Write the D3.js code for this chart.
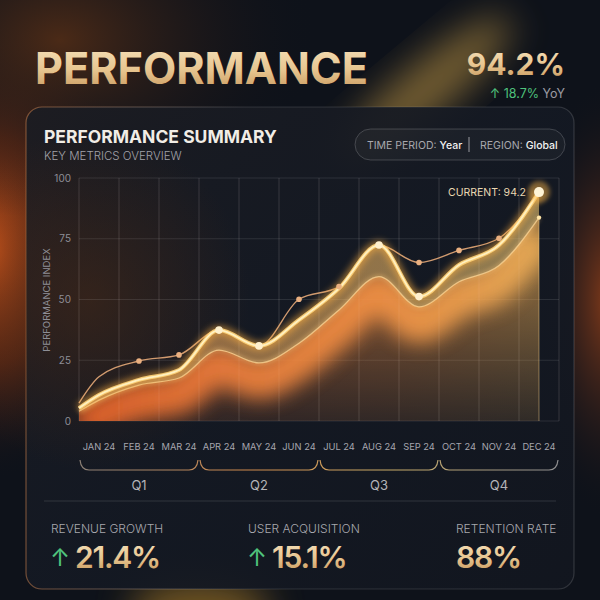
<!DOCTYPE html>
<html><head><meta charset="utf-8">
<script src="https://cdn.jsdelivr.net/npm/d3@7"></script>
<style>html,body{margin:0;padding:0;background:#0e121a;} svg{display:block;font-family:Inter,"Noto Sans",sans-serif;}</style>
</head><body><svg id="c" width="600" height="600"></svg>
<script>
// ---- data ----
const months = ["JAN 24","FEB 24","MAR 24","APR 24","MAY 24","JUN 24","JUL 24","AUG 24","SEP 24","OCT 24","NOV 24","DEC 24"];
const quarters = ["Q1","Q2","Q3","Q4"];
const yTicks = [0,25,50,75,100];
const performance = [10.7,16.9,21.0,37.4,30.9,41.6,54.6,72.4,51.2,64.2,72.4,94.2];
const target      = [18.2,24.7,27.2,37.4,30.9,50.1,55.3,72.4,65.2,70.2,75.2,94.2];
const baseline    = [8.6,14.8,17.7,29.2,23.9,32.0,45.7,59.4,47.0,57.3,64.0,83.7];
const startValues = {performance:5.3, target:7.4, baseline:4.0};
const perfDots = ["APR 24","MAY 24","AUG 24","SEP 24"];
const targetDots = ["FEB 24","MAR 24","JUN 24","JUL 24","SEP 24","OCT 24","NOV 24"];
const kpiLabels = ["REVENUE GROWTH","USER ACQUISITION","RETENTION RATE"];
const kpiValues = ["21.4%","15.1%","88%"];
const kpiUp = [true,true,false];
const headline = "94.2%";
const yoy = "18.7%";

// ---- setup ----
const svg = d3.select("#c");
const defs = svg.append("defs");
function lin(id, stops, attrs){
  const g = defs.append("linearGradient").attr("id", id);
  Object.entries(attrs||{}).forEach(([k,v])=>g.attr(k,v));
  stops.forEach(s=>g.append("stop").attr("offset",s[0]).attr("stop-color",s[1]).attr("stop-opacity",s[2]==null?1:s[2]));
}
function rad(id, stops, attrs){
  const g = defs.append("radialGradient").attr("id", id);
  Object.entries(attrs||{}).forEach(([k,v])=>g.attr(k,v));
  stops.forEach(s=>g.append("stop").attr("offset",s[0]).attr("stop-color",s[1]).attr("stop-opacity",s[2]==null?1:s[2]));
}
rad("gLeft",[[0,"#dc5a1c",0.95],[0.5,"#8a3410",0.55],[1,"#0e121a",0]]);
rad("gTopLeft",[[0,"#5a3016",0.8],[1,"#0e121a",0]]);
rad("gRight",[[0,"#a4461a",0.8],[1,"#0e121a",0]]);
rad("gCardWarm",[[0,"#4a2a16",0.55],[1,"#4a2a16",0]]);
lin("goldText",[[0,"#f7e4bf"],[0.55,"#e6c48e"],[1,"#c49257"]],{x1:0,y1:0,x2:0,y2:1});
lin("areaH",[[0,"#ea642a"],[0.3,"#f2803c"],[0.65,"#f49446"],[1,"#ecb25a"]],{gradientUnits:"userSpaceOnUse",x1:79,y1:0,x2:559,y2:0});
lin("bandH",[[0,"#f6a45c"],[0.5,"#f8b864"],[1,"#f6d27c"]],{gradientUnits:"userSpaceOnUse",x1:79,y1:0,x2:559,y2:0});
lin("fadeV",[[0,"#ffffff"],[0.5,"#b8b8b8"],[1,"#383838"]],{gradientUnits:"userSpaceOnUse",x1:0,y1:190,x2:0,y2:421});
lin("bracketG",[[0,"#8c8076"],[0.35,"#d08a4c"],[0.65,"#c9ac68"],[1,"#8e8e90"]],{gradientUnits:"userSpaceOnUse",x1:79,y1:0,x2:559,y2:0});
lin("cardStroke",[[0,"#c07a4a",0.55],[0.4,"#ffffff",0.12],[0.75,"#ffffff",0.12],[1,"#ffffff",0.14]],{x1:0,y1:0,x2:1,y2:0});
lin("cardFill",[[0,"#1b1c22",0.93],[0.5,"#141923",0.94],[1,"#12161f",0.95]],{x1:0,y1:0,x2:1,y2:1});
function blur(id, sd){
  defs.append("filter").attr("id",id).attr("x","-50%").attr("y","-50%").attr("width","200%").attr("height","200%")
    .append("feGaussianBlur").attr("stdDeviation",sd);
}
blur("glow",3.5); blur("soft",18); blur("glow2",2); blur("wide",10);

// ---- background ----
svg.append("rect").attr("width",600).attr("height",600).attr("fill","#0e121a");
svg.append("ellipse").attr("cx",-10).attr("cy",250).attr("rx",150).attr("ry",230).attr("fill","url(#gLeft)");
svg.append("ellipse").attr("cx",60).attr("cy",40).attr("rx",260).attr("ry",180).attr("fill","url(#gTopLeft)");
svg.append("ellipse").attr("cx",610).attr("cy",300).attr("rx",90).attr("ry",220).attr("fill","url(#gRight)");
svg.append("ellipse").attr("cx",425).attr("cy",90).attr("rx",26).attr("ry",110).attr("fill","#d8a848").attr("opacity",0.5)
  .attr("transform","rotate(50 425 90)").attr("filter","url(#soft)");
svg.append("ellipse").attr("cx",200).attr("cy",610).attr("rx",70).attr("ry",30).attr("fill","#b08028").attr("opacity",0.6).attr("filter","url(#soft)");

// ---- header ----
svg.append("text").attr("x",35).attr("y",84).text("PERFORMANCE")
  .attr("font-size",44).attr("font-weight",700).attr("fill","url(#goldText)")
  .attr("textLength",333).attr("lengthAdjust","spacingAndGlyphs");
svg.append("text").attr("x",565).attr("y",75).attr("text-anchor","end").text(headline)
  .attr("font-size",30).attr("font-weight",700).attr("fill","url(#goldText)");
const yo = svg.append("text").attr("x",565).attr("y",98).attr("text-anchor","end").attr("font-size",12.5);
yo.append("tspan").attr("fill","#4fc27c").text("↑ "+yoy+" ");
yo.append("tspan").attr("fill","#9a9aa2").text("YoY");

// ---- card ----
svg.append("rect").attr("x",26).attr("y",107).attr("width",548).attr("height",482).attr("rx",16)
  .attr("fill","url(#cardFill)").attr("stroke","url(#cardStroke)").attr("stroke-width",1.2);
svg.append("ellipse").attr("cx",90).attr("cy",300).attr("rx",160).attr("ry",170).attr("fill","url(#gCardWarm)");
svg.append("text").attr("x",44).attr("y",143).text("PERFORMANCE SUMMARY")
  .attr("font-size",17.5).attr("font-weight",700).attr("fill","#f1ede6");
svg.append("text").attr("x",44).attr("y",160).text("KEY METRICS OVERVIEW")
  .attr("font-size",11.5).attr("font-weight",300).attr("fill","#a2a2a8");
svg.append("rect").attr("x",355).attr("y",129).attr("width",210).attr("height",31).attr("rx",15.5)
  .attr("fill","rgba(255,255,255,0.03)").attr("stroke","rgba(255,255,255,0.18)");
const p1 = svg.append("text").attr("x",367).attr("y",149).attr("font-size",10.5);
p1.append("tspan").attr("fill","#a8a8ae").text("TIME PERIOD: ");
p1.append("tspan").attr("fill","#f2f2f2").attr("font-weight",500).text("Year");
svg.append("line").attr("x1",469).attr("x2",469).attr("y1",137).attr("y2",152).attr("stroke","#9a9aa0");
const p2 = svg.append("text").attr("x",480).attr("y",149).attr("font-size",10.5);
p2.append("tspan").attr("fill","#a8a8ae").text("REGION: ");
p2.append("tspan").attr("fill","#f2f2f2").attr("font-weight",500).text("Global");

// ---- chart ----
const x = d3.scaleBand().domain(months).range([79,559]);
const y = d3.scaleLinear().domain([0,100]).range([421,178]);
const cx = m => x(m) + x.bandwidth()/2;
const x0 = x.range()[0];
function series(vals, start){ return [{x:x0, v:start}].concat(months.map((m,i)=>({x:cx(m), v:vals[i]}))); }
const perfS = series(performance, startValues.performance);
const targS = series(target, startValues.target);
const baseS = series(baseline, startValues.baseline);
const line = d3.line().x(d=>d.x).y(d=>y(d.v)).curve(d3.curveMonotoneX);
const area = d3.area().x(d=>d.x).y0(y(0)).y1(d=>y(d.v)).curve(d3.curveMonotoneX);
const band = d3.area().x(d=>d.x).y0((d,i)=>y(baseS[i].v)).y1(d=>y(d.v)).curve(d3.curveMonotoneX);

const grid = svg.append("g");
grid.selectAll("line.h").data(yTicks).join("line").attr("x1",79).attr("x2",559)
  .attr("y1",d=>y(d)).attr("y2",d=>y(d)).attr("stroke","rgba(255,255,255,0.1)");
grid.selectAll("line.v").data(d3.range(months.length+1)).join("line")
  .attr("x1",i=>x0+i*x.bandwidth()).attr("x2",i=>x0+i*x.bandwidth())
  .attr("y1",y(100)).attr("y2",y(0)).attr("stroke","rgba(255,255,255,0.08)");
svg.selectAll("text.yt").data(yTicks).join("text").attr("x",71).attr("y",d=>y(d)+3.5)
  .attr("text-anchor","end").attr("font-size",10).attr("fill","#8e8e96").text(d=>d);
svg.append("text").attr("transform","translate(50,300) rotate(-90)").attr("text-anchor","middle")
  .attr("font-size",9.5).attr("fill","#8e8e96").text("PERFORMANCE INDEX");

const mask = defs.append("mask").attr("id","fadeMask").attr("maskUnits","userSpaceOnUse");
mask.append("rect").attr("x",70).attr("y",170).attr("width",500).attr("height",260).attr("fill","url(#fadeV)");
defs.append("clipPath").attr("id","baseClip").append("path").attr("d",area(baseS));
const plot = svg.append("g");
// base area (under lower line)
plot.append("path").attr("d",area(baseS)).attr("fill","url(#areaH)").attr("opacity",0.62).attr("mask","url(#fadeMask)");
// bright glow just beneath the lower line
plot.append("g").attr("clip-path","url(#baseClip)")
  .append("path").attr("d",line(baseS)).attr("transform","translate(0,16)").attr("fill","none")
  .attr("stroke","url(#areaH)").attr("stroke-width",40).attr("opacity",0.9).attr("filter","url(#wide)");
// band between main line and lower line
plot.append("path").attr("d",band(perfS)).attr("fill","url(#bandH)").attr("opacity",0.55);
// vertical grid faintly over area
plot.selectAll("line.v2").data(d3.range(months.length+1)).join("line")
  .attr("x1",i=>x0+i*x.bandwidth()).attr("x2",i=>x0+i*x.bandwidth())
  .attr("y1",y(100)).attr("y2",y(0)).attr("stroke","rgba(255,240,220,0.07)");
plot.append("line").attr("x1",cx("DEC 24")).attr("x2",cx("DEC 24")).attr("y1",y(baseline[11])).attr("y2",y(0))
  .attr("stroke","#ffd890").attr("stroke-opacity",0.45);
// lower line
plot.append("path").attr("d",line(baseS)).attr("fill","none").attr("stroke","#ffc878").attr("stroke-width",4).attr("opacity",0.4).attr("filter","url(#glow2)");
plot.append("path").attr("d",line(baseS)).attr("fill","none").attr("stroke","#ffd898").attr("stroke-width",1.3).attr("opacity",0.75);
// target thin line
plot.append("path").attr("d",line(targS)).attr("fill","none").attr("stroke","#e4a878").attr("stroke-width",1.4).attr("opacity",0.9);
// main line glow + core
plot.append("path").attr("d",line(perfS)).attr("fill","none").attr("stroke","#ffb040").attr("stroke-width",8).attr("opacity",0.6).attr("filter","url(#glow)");
plot.append("path").attr("d",line(perfS)).attr("fill","none").attr("stroke","#ffd47a").attr("stroke-width",4).attr("opacity",0.9);
plot.append("path").attr("d",line(perfS)).attr("fill","none").attr("stroke","#fff0c0").attr("stroke-width",1.8);
// dots
plot.selectAll("circle.t").data(targetDots).join("circle").attr("cx",d=>cx(d)).attr("cy",d=>y(target[months.indexOf(d)]))
  .attr("r",2.8).attr("fill","#eab080");
plot.selectAll("circle.p").data(perfDots).join("circle").attr("cx",d=>cx(d)).attr("cy",d=>y(performance[months.indexOf(d)]))
  .attr("r",3.8).attr("fill","#fff0cc");
plot.append("circle").attr("cx",cx("DEC 24")).attr("cy",y(baseline[11])).attr("r",2.2).attr("fill","#ffe6a8");
const last = months[11];
plot.append("circle").attr("cx",cx(last)).attr("cy",y(performance[11])).attr("r",11).attr("fill","#ffb848").attr("opacity",0.45).attr("filter","url(#glow2)");
plot.append("circle").attr("cx",cx(last)).attr("cy",y(performance[11])).attr("r",5).attr("fill","#fff4d6");
svg.append("text").attr("x",cx(last)-13).attr("y",y(performance[11])+3.5).attr("text-anchor","end")
  .attr("font-size",10.5).attr("fill","#ead8b2").text("CURRENT: "+performance[11]);

// x labels
svg.selectAll("text.xl").data(months).join("text").attr("x",d=>cx(d)).attr("y",450).attr("text-anchor","middle")
  .attr("font-size",9.3).attr("fill","#a6a6ae").text(d=>d);
// quarter brackets
const qw = x.bandwidth()*3;
svg.selectAll("path.br").data(quarters).join("path")
  .attr("d",(q,i)=>{const a=x0+i*qw, b=a+qw; return `M${a+1},460 Q${a+2},470 ${a+10},470 L${b-10},470 Q${b-2},470 ${b-1},460`;})
  .attr("fill","none").attr("stroke","url(#bracketG)").attr("stroke-width",1.2);
svg.selectAll("text.q").data(quarters).join("text").attr("x",(q,i)=>x0+i*qw+qw/2).attr("y",490)
  .attr("text-anchor","middle").attr("font-size",13).attr("fill","#b4b4b8").text(d=>d);

// divider
svg.append("line").attr("x1",44).attr("x2",556).attr("y1",501).attr("y2",501).attr("stroke","rgba(255,255,255,0.13)");

// KPIs
const kx = [51,248,456];
kpiLabels.forEach((l,i)=>{
  svg.append("text").attr("x",kx[i]).attr("y",533).attr("font-size",12).attr("font-weight",300).attr("fill","#a8a8ae").text(l);
  let tx = kx[i];
  if(kpiUp[i]){
    svg.append("text").attr("x",kx[i]-1).attr("y",566).attr("font-size",24).attr("fill","#4fc27c").text("↑");
    tx += 24;
  }
  svg.append("text").attr("x",tx).attr("y",568).attr("font-size",30).attr("font-weight",600)
    .attr("letter-spacing",-1.2).attr("fill","url(#goldText)").text(kpiValues[i]);
});
</script></body></html>
